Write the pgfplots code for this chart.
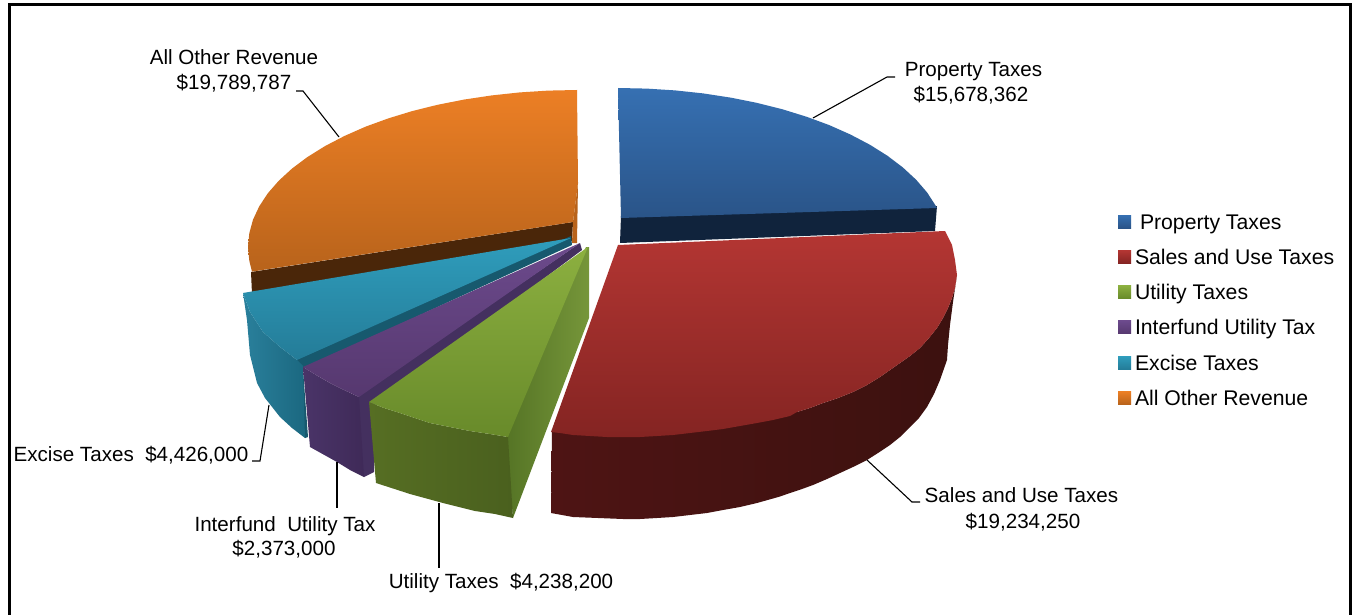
\documentclass[border=0pt]{standalone}
\usepackage{fontspec}
\setmainfont{Liberation Sans}
\usepackage{pgfplots}
\pgfplotsset{compat=1.18}
\definecolor{blA}{HTML}{3670B2}\definecolor{blB}{HTML}{2A5488}\definecolor{blS}{HTML}{10233C}
\definecolor{reA}{HTML}{B43633}\definecolor{reB}{HTML}{842422}
\definecolor{reL}{HTML}{4E1414}\definecolor{reM}{HTML}{3A100E}\definecolor{reR}{HTML}{3C110F}
\definecolor{grA}{HTML}{8CB040}\definecolor{grB}{HTML}{688A2A}
\definecolor{grF}{HTML}{4A601E}\definecolor{grFL}{HTML}{566E23}\definecolor{grL}{HTML}{557425}\definecolor{grR}{HTML}{76963A}
\definecolor{puA}{HTML}{6C4A8C}\definecolor{puB}{HTML}{56386F}\definecolor{puF}{HTML}{3F2A58}\definecolor{puFL}{HTML}{4A3468}\definecolor{puS}{HTML}{44305F}
\definecolor{teA}{HTML}{2F9DBC}\definecolor{teB}{HTML}{247C98}\definecolor{teF}{HTML}{1B6880}\definecolor{teFL}{HTML}{2A809C}\definecolor{teS}{HTML}{17596E}
\definecolor{orA}{HTML}{EC7F25}\definecolor{orB}{HTML}{B8631B}\definecolor{orS}{HTML}{4A2609}
\begin{document}
\begin{tikzpicture}[x=1pt,y=1pt]
\begin{axis}[
  scale only axis, width=1353pt, height=615pt,
  xmin=0, xmax=1353, ymin=0, ymax=615, y dir=reverse,
  axis lines=none, clip=true,
  legend image code/.code={\path[draw=none,#1] (0pt,-4.5pt) rectangle (13pt,8.5pt);},
  legend cell align=left,
  legend style={at={(axis cs:1118,214)},anchor=north west,draw=none,fill=none,
    font=\fontsize{21.2}{24}\selectfont,row sep=16.3pt,
    inner sep=0pt, outer sep=0pt,
    nodes={inner sep=0pt,outer sep=0pt,text depth=4pt,text height=15pt}},
]
\path[fill=white] (axis cs:0,0) rectangle (axis cs:1353,615);
\addlegendimage{top color=blA,bottom color=blB}
\addlegendimage{top color=reA,bottom color=reB}
\addlegendimage{top color=grA,bottom color=grB}
\addlegendimage{top color=puA,bottom color=puB}
\addlegendimage{top color=teA,bottom color=teB}
\addlegendimage{top color=orA,bottom color=orB}
\legend{\hspace{9pt}Property Taxes,\hspace{4pt}Sales and Use Taxes,\hspace{4pt}Utility Taxes,\hspace{4pt}Interfund Utility Tax,\hspace{4pt}Excise Taxes,\hspace{4pt}All Other Revenue}

% All Other Revenue
\addplot[forget plot,draw=none,fill=orS] coordinates {(251,272)(573,222)(572,241)(252,294)(251,272)};
\addplot[forget plot,draw=none,fill=orB] coordinates {(573,222)(578,183)(577,243)(572,243)(573,222)};
\addplot[forget plot,draw=none,top color=orA,bottom color=orB] coordinates {
(577,90)(548.3,90.6)(519.9,92.4)(491.9,95.4)(464.5,99.5)(438,104.7)(412.5,111)(388.3,118.4)(365.5,126.7)(344.4,136)(325,146.1)(307.5,157)(292.1,168.5)(278.8,180.7)(267.8,193.3)(259.2,206.4)(253,219.7)(249.3,233.3)(248,247)(249.3,260.7)(252,271.6)(573,222)(578,183)(577,90)};
% Property Taxes
\addplot[forget plot,draw=none,fill=blS] coordinates {(621,216)(937,206)(935,231)(620,243)(621,216)};
\addplot[forget plot,draw=none,top color=blA,bottom color=blB] coordinates {
(618,88)(646.7,88.6)(675.1,90.4)(703.2,93.4)(730.5,97.6)(757,102.9)(782.5,109.3)(806.7,116.8)(829.5,125.2)(850.6,134.6)(870,144.8)(887.5,155.8)(902.9,167.5)(916.2,179.8)(927.2,192.6)(935.8,205.9)(937,208)(621,218)(618,88)};
% Sales and Use Taxes
\addplot[forget plot,draw=none,left color=reL,middle color=reM,right color=reR] coordinates {
(957,275)(955,288)(952,298)(948,308)(943,318)(937,328)(929,338)(920,348)(910,356)(900,363)(890,370)(880,377)(867,385)(853,392)(838,398)(823,403)(810,408)(797,412)(773,415)(740,420)(700,425)(640,430)(590,430)(552,430)
(551,513)(573,517)(598,518)(623,519)(640,519)(657,518)(673,517)(690,515)(707,513)(723,510)(740,507)(757,503)(773,498.5)(780,496.5)(790,493)(802,489)(813,485)(827,479)(840,473)(853,467)(867,460)(878,453)(890,445)(900,437)(910,427)(919,418)(927,407)(934,394)(940,380)(947,360)(948,345)(950,325)(953,302)(957,275)};
\addplot[forget plot,draw=none,top color=reA,bottom color=reB] coordinates {
(618,245)(945,231)(952,245)(955,260)(957,275)(955,288)(952,298)(948,308)(943,318)(937,328)(929,338)(920,348)(910,356)(900,363)(890,370)(880,377)(867,385)(853,392)(838,398)(823,403)(810,408)(797,412)(790,416)(773,420)(757,423)(740,426)(723,429)(707,431)(690,433)(673,435)(657,436)(640,437)(623,437)(607,437)(590,436)(573,435)(560,433)(551,432)(618,245)};
% Excise Taxes
\addplot[forget plot,draw=none,fill=teS] coordinates {(297,358)(571,236)(572,245)(303,369)(308,437)(305,438)(295,400)(297,358)};
\addplot[forget plot,draw=none,left color=teFL,right color=teF] coordinates {(243,293)(250,312)(263,332)(280,347)(297,360)(303,366)(305,438)(292,428)(280,417)(265,398)(257,383)(250,355)(247,320)(243,293)};
\addplot[forget plot,draw=none,top color=teA,bottom color=teB] coordinates {(571,238)(243,293)(250,312)(263,332)(280,347)(297,360)(571,238)};
% Interfund Utility Tax
\addplot[forget plot,draw=none,fill=puS] coordinates {(359,395)(580,243)(582,250)(375,405)(374,472)(364,477)(350,440)(359,395)};
\addplot[forget plot,draw=none,left color=puFL,right color=puF] coordinates {(303,367)(316,375)(330,383)(344,390)(359,397)(364,477)(350,470)(337,462)(310,447)(303,367)};
\addplot[forget plot,draw=none,top color=puA,bottom color=puB] coordinates {(580,243)(303,367)(316,375)(330,383)(344,390)(359,397)(580,243)};
% Utility Taxes
\addplot[forget plot,draw=none,left color=grL,right color=grR] coordinates {(586,247)(589,247)(589,318)(513,518)(506,437)(586,247)};
\addplot[forget plot,draw=none,left color=grFL,right color=grF] coordinates {(369,402)(384,408)(400,413)(415,418)(430,423)(450,427)(470,431)(490,434)(508,437)(513,518)(495,514)(475,511)(443,503)(410,494)(376,483)(369,402)};
\addplot[forget plot,draw=none,top color=grA,bottom color=grB] coordinates {(588,247)(369,402)(384,408)(400,413)(415,418)(430,423)(450,427)(470,431)(490,434)(508,437)(588,247)};

% leader lines
\addplot[forget plot,black,line width=1.1pt] coordinates {(813,118)(887,77)(895,77)};
\addplot[forget plot,black,line width=1.1pt] coordinates {(339,137)(303,91)(296,91)};
\addplot[forget plot,black,line width=1.1pt] coordinates {(867,460)(912,502)(920,502)};
\addplot[forget plot,black,line width=1.1pt] coordinates {(269,405)(260,461)(252,461)};
\addplot[forget plot,black,line width=1.1pt] coordinates {(337,462)(337,508)};
\addplot[forget plot,black,line width=1.1pt] coordinates {(439,503)(439,568)};

% labels
\tikzset{lab/.style={font=\fontsize{20.6}{24}\selectfont,inner sep=0pt,text=black,anchor=center}}
\node[lab] at (axis cs:973.5,72) {Property Taxes};
\node[lab] at (axis cs:971,95) {\$15,678,362};
\node[lab] at (axis cs:234,57) {All Other Revenue};
\node[lab] at (axis cs:234,83) {\$19,789,787};
\node[lab] at (axis cs:1021.5,495) {Sales and Use Taxes};
\node[lab] at (axis cs:1023,522) {\$19,234,250};
\node[lab] at (axis cs:131,455) {Excise Taxes\ \ \$4,426,000};
\node[lab] at (axis cs:285,526) {Interfund\ \ Utility Tax};
\node[lab] at (axis cs:284,549) {\$2,373,000};
\node[lab] at (axis cs:501,583) {Utility Taxes\ \ \$4,238,200};

% frame
\draw[black,line width=3pt] (axis cs:9.5,625) -- (axis cs:9.5,5) -- (axis cs:1350,5) -- (axis cs:1350,625);
\end{axis}
\end{tikzpicture}
\end{document}
